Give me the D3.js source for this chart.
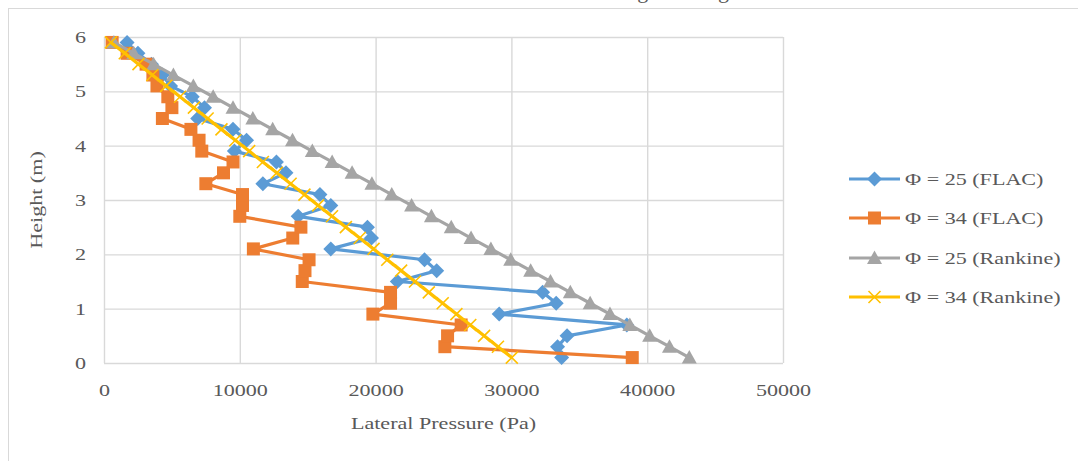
<!DOCTYPE html>
<html>
<head>
<meta charset="utf-8">
<script src="https://cdn.jsdelivr.net/npm/d3@7"></script>
<style>
    body { margin: 0; background: #fff; }
    svg { display: block; }
</style>
</head>
<body>
<svg id="chart"></svg>
<script>
"use strict"

const CHART_WIDTH = 1078;
const CHART_HEIGHT = 461;
const MARGIN = { left: 104, right: 295, top: 37, bottom: 98 };
const TEXT_COLOR = "#595959";
const GRID_COLOR = "#d9d9d9";
const FONT = "'Liberation Serif', 'Times New Roman', serif";
const STRETCH = 1.3;   // the original font runs wide

// Data
const HEIGHTS = [0.1, 0.3, 0.5, 0.7, 0.9, 1.1, 1.3, 1.5, 1.7, 1.9, 2.1, 2.3, 2.5, 2.7, 2.9,
    3.1, 3.3, 3.5, 3.7, 3.9, 4.1, 4.3, 4.5, 4.7, 4.9, 5.1, 5.3, 5.5, 5.7, 5.9];
const PHI25_FLAC = [33700, 33400, 34100, 38500, 29100, 33300, 32300, 21600, 24500, 23600,
    16700, 19700, 19400, 14300, 16700, 15900, 11700, 13400, 12700, 9600,
    10500, 9500, 6900, 7400, 6500, 4900, 4300, 3500, 2500, 1700];
const PHI34_FLAC = [38900, 25100, 25300, 26300, 19800, 21100, 21100, 14600, 14800, 15100,
    11000, 13900, 14500, 10000, 10200, 10200, 7500, 8800, 9500, 7200,
    7000, 6400, 4300, 5000, 4700, 3900, 3600, 3100, 1700, 600];
const PHI25_RANKINE = [43100, 41640, 40180, 38720, 37260, 35800, 34340, 32880, 31420, 29950,
    28490, 27030, 25570, 24110, 22650, 21190, 19730, 18270, 16800, 15340,
    13880, 12420, 10960, 9500, 8040, 6580, 5110, 3650, 2190, 730];
const PHI34_RANKINE = [30030, 29010, 27990, 26970, 25950, 24940, 23920, 22900, 21880, 20860,
    19850, 18830, 17810, 16790, 15770, 14760, 13740, 12720, 11700, 10690,
    9670, 8650, 7630, 6620, 5600, 4580, 3560, 2540, 1530, 510];

const SERIES_NAMES = ["Φ = 25 (FLAC)", "Φ = 34 (FLAC)", "Φ = 25 (Rankine)", "Φ = 34 (Rankine)"];
const SERIES_VALUES = [PHI25_FLAC, PHI34_FLAC, PHI25_RANKINE, PHI34_RANKINE];
const SERIES_COLORS = ["#5B9BD5", "#ED7D31", "#A5A5A5", "#FFC000"];
const SERIES_MARKERS = ["diamond", "square", "triangle", "cross"];

const X_TICKS = [0, 10000, 20000, 30000, 40000, 50000];
const Y_TICKS = [0, 1, 2, 3, 4, 5, 6];
const X_TITLE = "Lateral Pressure (Pa)";
const Y_TITLE = "Height (m)";
const CHART_TITLE = "Lateral Pressure along the Height of the Wall";

function markerPath(kind) {
    switch (kind) {
        case "diamond": return "M0,-7.5L7.5,0L0,7.5L-7.5,0Z";
        case "square": return "M-6.5,-6.5H6.5V6.5H-6.5Z";
        case "triangle": return "M0,-7.5L7.5,6L-7.5,6Z";
        default: return "M-6,-6L6,6M6,-6L-6,6";
    }
}

function drawMarker(g, kind, color, x, y) {
    const p = g.append("path")
        .attr("d", markerPath(kind))
        .attr("transform", `translate(${x},${y})`);
    if (kind == "cross") {
        p.attr("fill", "none").attr("stroke", color).attr("stroke-width", 1.6);
    } else {
        p.attr("fill", color);
    }
}

function wideText(g, str, x, y, anchor, rotate) {
    return g.append("text")
        .text(str)
        .attr("transform", `translate(${x},${y})${rotate ? " rotate(-90)" : ""} scale(${STRETCH},1)`)
        .attr("text-anchor", anchor)
        .attr("font-family", FONT)
        .attr("font-size", 17)
        .attr("fill", TEXT_COLOR);
}

function drawChart() {
    const svg = d3.select("#chart")
        .attr("width", CHART_WIDTH)
        .attr("height", CHART_HEIGHT);

    svg.append("rect")
        .attr("width", CHART_WIDTH).attr("height", CHART_HEIGHT)
        .attr("fill", "#fff");

    // chart title: only its lowest strokes show at the top edge, as in the original
    svg.append("text")
        .text(CHART_TITLE)
        .attr("x", 650).attr("y", -2)
        .attr("text-anchor", "middle")
        .attr("font-family", FONT)
        .attr("font-size", 22)
        .attr("fill", TEXT_COLOR);

    // outer chart border
    svg.append("rect")
        .attr("x", 8.5).attr("y", 8.5)
        .attr("width", CHART_WIDTH).attr("height", CHART_HEIGHT)
        .attr("fill", "none")
        .attr("stroke", GRID_COLOR);

    const plotW = CHART_WIDTH - MARGIN.left - MARGIN.right;
    const plotH = CHART_HEIGHT - MARGIN.top - MARGIN.bottom;
    const xscale = d3.scaleLinear([0, 50000], [MARGIN.left, MARGIN.left + plotW]);
    const yscale = d3.scaleLinear([0, 6], [MARGIN.top + plotH, MARGIN.top]);

    // X axis with vertical grid lines
    const xaxis_g = svg.append("g")
        .attr("transform", `translate(0,${MARGIN.top + plotH})`)
        .call(d3.axisBottom(xscale).tickValues(X_TICKS).tickFormat(d3.format("d"))
            .tickSizeInner(-plotH).tickSizeOuter(0).tickPadding(21));

    // Y axis with horizontal grid lines
    const yaxis_g = svg.append("g")
        .attr("transform", `translate(${MARGIN.left},0)`)
        .call(d3.axisLeft(yscale).tickValues(Y_TICKS).tickFormat(d3.format("d"))
            .tickSizeInner(-plotW).tickSizeOuter(0).tickPadding(14));

    for (const g of [xaxis_g, yaxis_g]) {
        g.select(".domain").remove();
        g.selectAll(".tick line").attr("stroke", GRID_COLOR).attr("stroke-width", 1.4);
        g.selectAll(".tick text")
            .attr("font-family", FONT)
            .attr("font-size", 17)
            .attr("fill", TEXT_COLOR)
            .attr("transform", `scale(${STRETCH},1)`);
    }
    yaxis_g.selectAll(".tick text").attr("x", -18 / STRETCH);

    // axis titles
    wideText(svg, X_TITLE, MARGIN.left + plotW / 2, 429, "middle", false);
    wideText(svg, Y_TITLE, 42, MARGIN.top + plotH / 2, "middle", true);

    // series
    const lineTranslator = d3.line()
        .x(d => xscale(d.x))
        .y(d => yscale(d.y));

    for (let i = 0; i < SERIES_VALUES.length; ++i) {
        const pts = HEIGHTS.map((h, j) => ({ x: SERIES_VALUES[i][j], y: h }));
        const g = svg.append("g");
        g.append("path")
            .attr("d", lineTranslator(pts))
            .attr("fill", "none")
            .attr("stroke", SERIES_COLORS[i])
            .attr("stroke-width", 3.2)
            .attr("stroke-linejoin", "round");
        for (const p of pts) {
            drawMarker(g, SERIES_MARKERS[i], SERIES_COLORS[i], xscale(p.x), yscale(p.y));
        }
    }

    // legend
    const legend = svg.append("g");
    const LEGEND_Y = [179, 218, 258, 297];
    for (let i = 0; i < SERIES_NAMES.length; ++i) {
        const y = LEGEND_Y[i];
        legend.append("line")
            .attr("x1", 849).attr("x2", 900)
            .attr("y1", y).attr("y2", y)
            .attr("stroke", SERIES_COLORS[i])
            .attr("stroke-width", 3.2);
        drawMarker(legend, SERIES_MARKERS[i], SERIES_COLORS[i], 874.5, y);
        wideText(legend, SERIES_NAMES[i], 905, y + 6, "start", false);
    }
}

document.addEventListener("DOMContentLoaded", drawChart);
</script>
</body>
</html>
